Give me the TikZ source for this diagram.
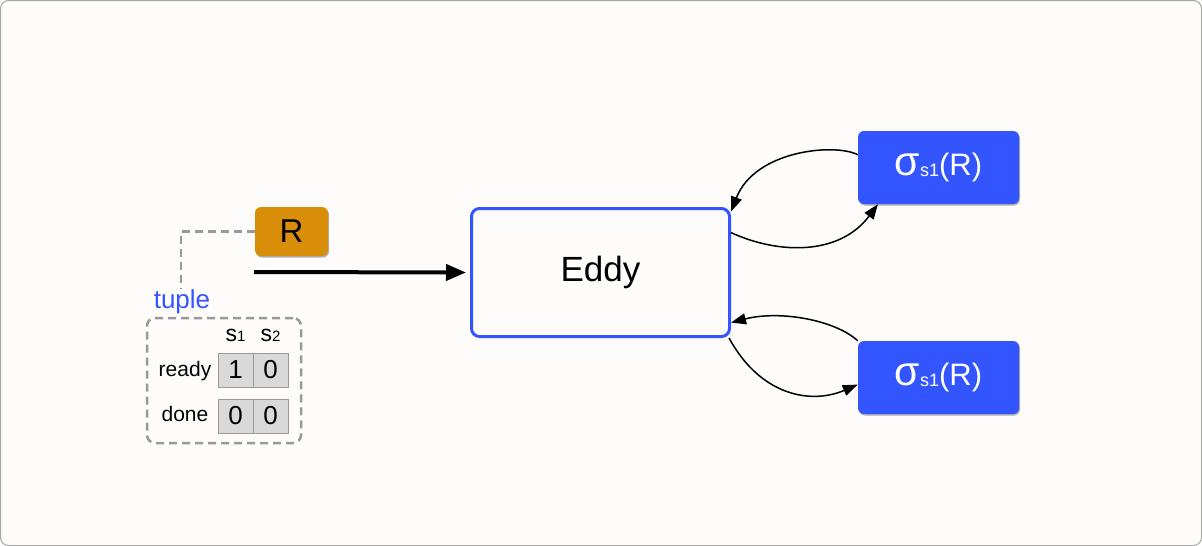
\documentclass[tikz,border=0pt]{standalone}
\usepackage{fontspec}
\setmainfont{Liberation Sans}
\usetikzlibrary{arrows.meta,shadows}
\definecolor{bg}{HTML}{FDFCFA}
\definecolor{frame}{HTML}{A6A6A6}
\definecolor{bblue}{HTML}{3355FF}
\definecolor{rorange}{HTML}{D98E0A}
\definecolor{dgray}{HTML}{999999}
\definecolor{cellfill}{HTML}{D9D9D9}
\tikzset{
  shadowed/.style={drop shadow={shadow xshift=1pt,shadow yshift=-1.5pt,opacity=0.3,fill=black}},
  rbox/.style={rectangle,rounded corners=6pt,fill=rorange,minimum width=73pt,minimum height=49pt,inner sep=0pt,shadowed,font=\fontsize{33}{33}\selectfont},
  opbox/.style={rectangle,rounded corners=6pt,fill=bblue,text=white,minimum width=161pt,minimum height=73pt,inner sep=0pt,shadowed},
  eddybox/.style={rectangle,rounded corners=8pt,draw=bblue,line width=3pt,fill=bg,minimum width=258pt,minimum height=128pt,inner sep=0pt,font=\fontsize{35}{35}\selectfont},
  tuplebox/.style={rectangle,rounded corners=8pt,draw=dgray,line width=2.5pt,dash pattern=on 8pt off 5pt,minimum width=154pt,minimum height=125pt,inner sep=0pt},
  cell/.style={rectangle,draw=dgray,line width=1pt,fill=cellfill,minimum width=35pt,minimum height=34pt,inner sep=0pt,font=\fontsize{26}{26}\selectfont},
  rowlabel/.style={font=\fontsize{21}{21}\selectfont,inner sep=0pt},
  colhead/.style={font=\fontsize{23}{23}\selectfont,inner sep=0pt,anchor=base},
  dashlink/.style={draw=dgray,line width=2.5pt,dash pattern=on 8pt off 5pt},
  loop/.style={line width=1.5pt,-{Triangle[length=15pt,width=11pt]}},
  main/.style={line width=4pt,-{Triangle[length=20pt,width=16pt]}},
}
\newcommand{\sigmatext}{{\fontsize{41}{41}\selectfont σ}\raisebox{-1pt}{\fontsize{18}{18}\selectfont s1}{\fontsize{31}{31}\selectfont (R)}}
\begin{document}
\begin{tikzpicture}[x=1pt,y=-1pt]
\useasboundingbox (0,0) rectangle (1202,546);
\draw[rounded corners=8pt,draw=frame,line width=1pt,fill=bg] (0.5,0.5) rectangle (1201.5,545.5);

% nodes
\node[rbox] (r) at (291.5,231.5) {R};
\node[eddybox] (eddy) at (600.5,272.5) {Eddy};
\node[opbox] (s1) at (938.5,167.5) {\sigmatext};
\node[opbox] (s2) at (938.5,377.5) {\sigmatext};

% tuple
\node[tuplebox] (tb) at (224,380.5) {};
\node[text=bblue,font=\fontsize{26}{26}\selectfont,inner sep=0pt] (tuplelbl) at (182,302) {tuple};
\coordinate (tp) at (181,289);
\draw[dashlink] (r.west) -| (tp);

\node[colhead] (h1) at (235.5,341) {s{\fontsize{15}{15}\selectfont 1}};
\node[colhead] (h2) at (270.5,341) {s{\fontsize{15}{15}\selectfont 2}};
\node[cell] (c11) at (235.5,370) {1};
\node[cell] (c12) at (270.5,370) {0};
\node[cell] (c21) at (235.5,416) {0};
\node[cell] (c22) at (270.5,416) {0};
\node[rowlabel] (ready) at (185,371) {ready};
\node[rowlabel] (done) at (185,414) {done};

% main arrow
\coordinate (astart) at (254,272);
\draw[main] (astart) -- ([xshift=-4pt]eddy.west);

% loops
\draw[loop] (s1.171) .. controls (835,143) and (755,150) .. (eddy.25);
\draw[loop] (eddy.17) .. controls (780,255) and (840,255) .. ([xshift=-4pt]s1.213);
\draw[loop] (s2.north west) .. controls (835,320) and (780,310) .. (eddy.-21);
\draw[loop] (eddy.-27) .. controls (760,395) and (810,405) .. (s2.185);
\end{tikzpicture}
\end{document}
